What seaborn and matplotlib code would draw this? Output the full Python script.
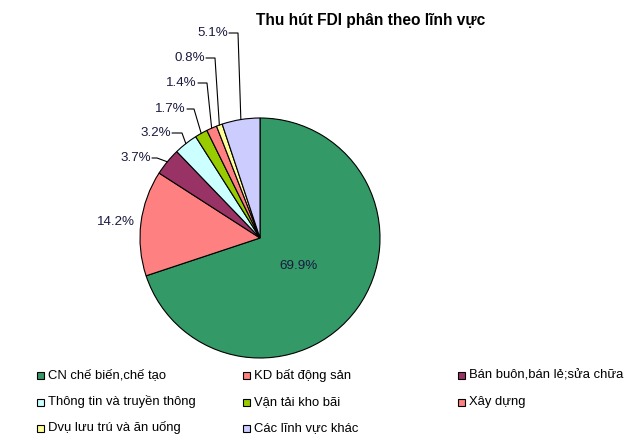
import numpy as np
import matplotlib
matplotlib.use("Agg")
import matplotlib.pyplot as plt
import seaborn as sns
from matplotlib.patches import Rectangle

# data
sectors = ["CN chế biến,chế tạo", "KD bất động sản", "Bán buôn,bán lẻ;sửa chữa",
           "Thông tin và truyền thông", "Vận tải kho bãi", "Xây dựng",
           "Dvụ lưu trú và ăn uống", "Các lĩnh vực khác"]
shares = [69.9, 14.2, 3.7, 3.2, 1.7, 1.4, 0.8, 5.1]
colors = ["#339966", "#FF8080", "#993366", "#CCFFFF",
          "#99CC00", "#FF8080", "#FFFF99", "#CCCCFF"]
title = "Thu hút FDI phân theo lĩnh vực"

sns.set_theme(style="white")
plt.rcParams["font.family"] = ["Liberation Sans", "DejaVu Sans"]

W, H = 630, 438
fig = plt.figure(figsize=(W / 100, H / 100), dpi=100)
ax = fig.add_axes([0, 0, 1, 1])

cx, cy, r = 260, H - 238, 120
wedges, _ = ax.pie(shares, colors=sns.color_palette(colors), startangle=90,
                   counterclock=False, center=(cx, cy), radius=r,
                   wedgeprops=dict(edgecolor="black", linewidth=0.8))
ax.set_xlim(0, W)
ax.set_ylim(0, H)
ax.axis("off")

lab_color = "#1a1a40"
fs = 9.6
dy = 1.5  # baseline nudge

# label layout (image pixel coords: right end of text, centre y); None = inside
label_pos = [None, (135, 222), (151, 158), (171, 133),
             (186, 109), (197, 83), (205, 58), (228, 33)]
elbow_dx = [0, 0, 6, 11, 8, 10, 10, 10]

for w, v, pos, ex in zip(wedges, shares, label_pos, elbow_dx):
    mid = np.deg2rad((w.theta1 + w.theta2) / 2)
    txt = f"{v:.1f}%"
    if pos is None:
        x = cx + 0.4 * r * np.cos(mid)
        y = cy + 0.4 * r * np.sin(mid)
        ax.text(x, y + dy, txt, ha="center", va="center_baseline", fontsize=fs,
                color=lab_color)
        continue
    tx, ty = pos[0], H - pos[1]
    ax.text(tx, ty + dy, txt, ha="right", va="center_baseline", fontsize=fs,
            color=lab_color)
    if ex:
        axx = cx + r * np.cos(mid)
        ayy = cy + r * np.sin(mid)
        ax.plot([tx + 1, tx + ex, axx], [ty, ty, ayy], color="black", lw=0.8)

ax.text(371, H - 20 + dy, title, ha="center", va="center_baseline", fontsize=11.2,
        fontweight="bold", color="black")

# legend, row-major in three columns
col_x = [37, 243, 458]
row_y = [375, 402, 428]
for i, (name, c) in enumerate(zip(sectors, colors)):
    x = col_x[i % 3]
    y = H - row_y[i // 3]
    ax.add_patch(Rectangle((x, y - 3.5), 7, 7, facecolor=c, edgecolor="black", lw=0.8))
    ax.text(x + 11, y + dy, name, ha="left", va="center_baseline", fontsize=9.4,
            color="black")

fig.savefig("out.png", dpi=100)
